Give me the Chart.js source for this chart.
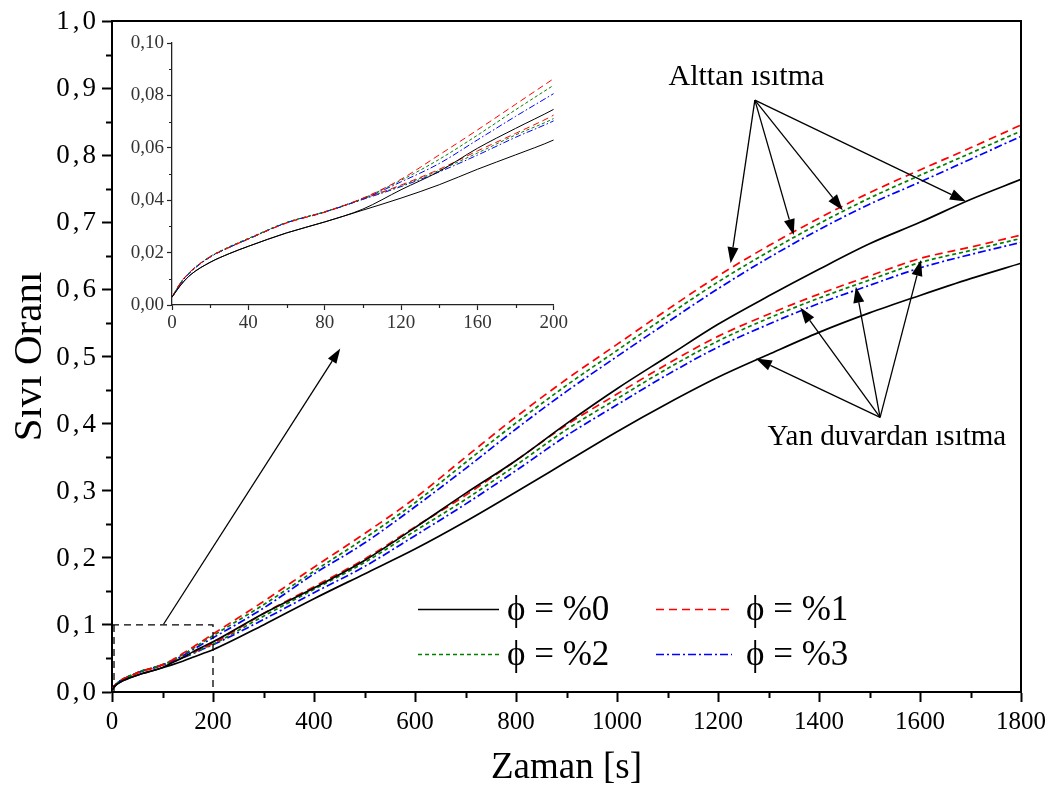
<!DOCTYPE html>
<html><head><meta charset="utf-8">
<script src="https://cdn.jsdelivr.net/npm/chart.js@4.4.0/dist/chart.umd.min.js"></script>
<style>
html,body{margin:0;padding:0;background:#fff;}
#wrap{position:relative;width:1057px;height:794px;overflow:hidden;}
#main{position:absolute;left:0;top:0;}
#inset{position:absolute;left:100px;top:25px;}
</style></head><body>
<div id="wrap"><canvas id="main" width="1057" height="794"></canvas><canvas id="inset" width="470" height="320"></canvas></div>
<script>
// ---- data ----
const times = [0,5,10,20,30,40,60,80,100,120,140,160,180,200,300,400,500,600,700,800,900,1000,1100,1200,1300,1400,1500,1600,1700,1800];
// Alttan ısıtma (bottom heating)
const alttan0 = [0.003,0.008,0.0117,0.0163,0.0196,0.0224,0.0275,0.0317,0.0366,0.044,0.051,0.0598,0.0674,0.0747,0.117,0.155,0.196,0.245,0.296,0.345,0.400,0.452,0.500,0.548,0.590,0.630,0.668,0.700,0.734,0.764];
const alttan1 = [0.003,0.009,0.013,0.0184,0.022,0.0252,0.0313,0.0355,0.0408,0.048,0.0573,0.0668,0.0766,0.0864,0.135,0.186,0.236,0.289,0.350,0.410,0.466,0.518,0.570,0.620,0.665,0.706,0.744,0.778,0.811,0.845];
const alttan2 = [0.003,0.009,0.013,0.0185,0.0222,0.0254,0.0315,0.0356,0.0407,0.0476,0.0556,0.0648,0.0745,0.0839,0.130,0.180,0.229,0.282,0.342,0.401,0.457,0.509,0.561,0.611,0.656,0.698,0.736,0.770,0.803,0.836];
const alttan3 = [0.003,0.0088,0.0128,0.0183,0.022,0.0252,0.0314,0.0355,0.0405,0.047,0.054,0.063,0.072,0.0807,0.125,0.176,0.222,0.276,0.333,0.392,0.448,0.500,0.551,0.601,0.647,0.689,0.727,0.760,0.794,0.828];
// Yan duvardan ısıtma (side-wall heating)
const yan0 = [0.003,0.008,0.0117,0.0163,0.0196,0.0224,0.0275,0.0317,0.0362,0.0408,0.0459,0.0518,0.0573,0.063,0.100,0.139,0.176,0.213,0.254,0.298,0.343,0.388,0.430,0.469,0.503,0.536,0.565,0.591,0.616,0.639];
const yan1 = [0.003,0.009,0.013,0.0184,0.022,0.0252,0.0313,0.0354,0.0405,0.0458,0.0518,0.0588,0.0655,0.0725,0.117,0.157,0.198,0.246,0.293,0.345,0.398,0.444,0.489,0.530,0.563,0.593,0.620,0.646,0.663,0.681];
const yan2 = [0.003,0.009,0.013,0.0185,0.0222,0.0254,0.0315,0.0355,0.0405,0.0455,0.0514,0.058,0.0649,0.0712,0.113,0.153,0.193,0.240,0.287,0.338,0.391,0.437,0.482,0.523,0.557,0.587,0.614,0.640,0.658,0.676];
const yan3 = [0.003,0.0088,0.0128,0.0183,0.022,0.0252,0.0314,0.0355,0.0403,0.0452,0.0508,0.0572,0.064,0.0703,0.108,0.148,0.187,0.233,0.280,0.330,0.382,0.428,0.473,0.514,0.548,0.579,0.606,0.632,0.652,0.670];
const legendLabels = ['\u03D5 = %0','\u03D5 = %1','\u03D5 = %2','\u03D5 = %3'];
const xTicksMain = [0,200,400,600,800,1000,1200,1400,1600,1800];
const annotTop = 'Alttan ısıtma';
const annotBottom = 'Yan duvardan ısıtma';
const xTitle = 'Zaman [s]';
const yTitle = 'Sıvı Oranı';

// ---- styles ----
const SERIF = '"Liberation Serif","Times New Roman",serif';
const seriesStyle = [
  {color:'#000000', dash:[]},
  {color:'#ff0000', dash:[8,5]},
  {color:'#008000', dash:[4,3]},
  {color:'#0000ff', dash:[8,3,2,3]}
];
const groups = [[alttan0,alttan1,alttan2,alttan3],[yan0,yan1,yan2,yan3]];

function makeDatasets(width, dashScale){
  const ds = [];
  groups.forEach((g,gi)=>{
    g.forEach((vals,i)=>{
      const st = seriesStyle[i];
      ds.push({
        label: legendLabels[i] + (gi ? ' yan' : ' alttan'),
        data: times.map((t,k)=>({x:t, y:vals[k]})),
        borderColor: st.color,
        borderWidth: width,
        borderDash: st.dash.map(d=>d*dashScale),
        pointRadius: 0,
        fill: false,
        cubicInterpolationMode: 'monotone'
      });
    });
  });
  return ds;
}

function fmtComma(v, d){ return Number(v).toFixed(d).replace('.', ','); }

const minorTicks = {
  id:'minorTicks',
  afterDraw(chart, args, opts){
    const {ctx, scales:{x,y}} = chart;
    ctx.save();
    ctx.strokeStyle = opts.color || '#000';
    ctx.lineWidth = opts.width || 1;
    ctx.beginPath();
    for (let v = x.min + opts.xStep; v < x.max; v += opts.xStep*2){
      const px = Math.round(x.getPixelForValue(v)) + 0.5;
      ctx.moveTo(px, y.bottom); ctx.lineTo(px, y.bottom + opts.len);
    }
    for (let v = y.min + opts.yStep; v < y.max + 1e-9; v += opts.yStep*2){
      const py = Math.round(y.getPixelForValue(v)) + 0.5;
      ctx.moveTo(x.left, py); ctx.lineTo(x.left - opts.len, py);
    }
    ctx.stroke();
    ctx.restore();
  }
};

// y tick labels with slightly wider letter spacing (as in the original)
const yLabels = {
  id:'yLabels',
  afterDraw(chart, args, opts){
    const {ctx, scales:{y}} = chart;
    ctx.save();
    ctx.fillStyle = opts.color; ctx.font = opts.size + 'px ' + SERIF;
    ctx.textAlign = 'right'; ctx.textBaseline = 'middle';
    if ('letterSpacing' in ctx) ctx.letterSpacing = opts.spacing + 'px';
    y.ticks.forEach(t=>{
      const py = y.getPixelForValue(t.value);
      ctx.fillText(fmtComma(t.value, opts.dec), opts.right + opts.spacing, py + 1);
    });
    ctx.restore();
  }
};

function arrow(ctx, x0, y0, x1, y1, head, halfW){
  const ang = Math.atan2(y1-y0, x1-x0);
  const bx = x1 - head*Math.cos(ang), by = y1 - head*Math.sin(ang);
  ctx.beginPath(); ctx.moveTo(x0,y0); ctx.lineTo(bx,by); ctx.stroke();
  ctx.beginPath();
  ctx.moveTo(x1,y1);
  ctx.lineTo(bx + halfW*Math.sin(ang), by - halfW*Math.cos(ang));
  ctx.lineTo(bx - halfW*Math.sin(ang), by + halfW*Math.cos(ang));
  ctx.closePath(); ctx.fill();
}

const annot = {
  id:'annot',
  afterDraw(chart){
    const {ctx, scales:{x,y}, chartArea:ca} = chart;
    const P = (t,v)=>[x.getPixelForValue(t), y.getPixelForValue(v)];
    ctx.save();
    // frame top/right
    ctx.strokeStyle = '#000'; ctx.lineWidth = 2;
    ctx.beginPath();
    ctx.moveTo(ca.left, ca.top); ctx.lineTo(ca.right, ca.top); ctx.lineTo(ca.right, ca.bottom);
    ctx.stroke();
    // zoom box (dashed)
    ctx.lineWidth = 1.3; ctx.setLineDash([7,5]);
    ctx.beginPath();
    let a = P(0,0.1), b = P(200,0.1), c = P(200,0);
    ctx.moveTo(a[0],a[1]); ctx.lineTo(b[0],b[1]); ctx.lineTo(c[0],c[1]);
    let d = P(2,0.1), e = P(2,0);
    ctx.moveTo(d[0]+1,d[1]); ctx.lineTo(e[0]+1,e[1]);
    ctx.stroke();
    ctx.setLineDash([]);
    ctx.fillStyle = '#000'; ctx.lineWidth = 1.3;
    // arrow to inset
    let s = P(102,0.101), tt = P(452,0.512);
    arrow(ctx, s[0], s[1], tt[0], tt[1], 15, 5);
    // Alttan arrows
    const o1 = P(1273,0.882);
    [[1225,0.639],[1350,0.681],[1447,0.718],[1691,0.731]].forEach(q=>{
      const p = P(q[0],q[1]); arrow(ctx, o1[0], o1[1], p[0], p[1], 16, 5.5);
    });
    // Yan arrows
    const o2 = P(1521,0.4094);
    [[1275,0.497],[1363,0.573],[1473,0.604],[1602,0.644]].forEach(q=>{
      const p = P(q[0],q[1]); arrow(ctx, o2[0], o2[1], p[0], p[1], 16, 5.5);
    });
    // texts
    ctx.fillStyle = '#000';
    ctx.textBaseline = 'alphabetic'; ctx.textAlign = 'left';
    ctx.font = '30px ' + SERIF;
    let tp = P(1102, 0.905);
    ctx.fillText(annotTop, tp[0], tp[1]);
    ctx.font = '29px ' + SERIF;
    tp = P(1298, 0.3675);
    ctx.fillText(annotBottom, tp[0], tp[1]);
    // legend
    const lx0 = [418,656], lx1 = [499,732], tx = [507,746], ly = [609,654];
    for (let i=0;i<4;i++){
      const col = i%2, row = Math.floor(i/2);
      const st = seriesStyle[i];
      ctx.strokeStyle = st.color; ctx.lineWidth = 1.6; ctx.setLineDash(st.dash);
      ctx.beginPath(); ctx.moveTo(lx0[col], ly[row]+0.5); ctx.lineTo(lx1[col], ly[row]+0.5); ctx.stroke();
      ctx.setLineDash([]);
      ctx.fillStyle = '#000'; ctx.font = '35px ' + SERIF; ctx.textBaseline = 'middle';
      ctx.fillText(legendLabels[i], tx[col], ly[row]+2);
    }
    ctx.restore();
  }
};

const mainChart = new Chart(document.getElementById('main'), {
  type:'line',
  data:{datasets: makeDatasets(1.7, 1)},
  options:{
    responsive:false, animation:false, devicePixelRatio:1,
    layout:{padding:{left:0, right:36, top:21, bottom:0}},
    plugins:{legend:{display:false}, tooltip:{enabled:false},
      minorTicks:{xStep:100, yStep:0.05, len:6, width:2},
      yLabels:{right:96, size:27, spacing:3, dec:1, color:'#000'}},
    scales:{
      x:{type:'linear', min:0, max:1800,
        afterBuildTicks:(s)=>{ s.ticks = xTicksMain.map(v=>({value:v})); },
        ticks:{font:{family:SERIF, size:25}, color:'#000', padding:5, maxRotation:0, autoSkip:false,
          callback:(v)=>String(v)},
        grid:{display:true, drawOnChartArea:false, tickLength:10, tickWidth:2, color:'#000'},
        border:{display:true, color:'#000', width:2},
        title:{display:true, text:xTitle, font:{family:SERIF, size:37}, color:'#000', padding:{top:0, bottom:4}},
        afterFit:(s)=>{ s.height = 102; }
      },
      y:{type:'linear', min:0, max:1,
        ticks:{stepSize:0.1, display:false},
        grid:{display:true, drawOnChartArea:false, tickLength:10, tickWidth:2, color:'#000'},
        border:{display:true, color:'#000', width:2},
        title:{display:true, text:yTitle, font:{family:SERIF, size:41}, color:'#000', padding:{top:6, bottom:0}},
        afterFit:(s)=>{ s.width = 112; }
      }
    }
  },
  plugins:[minorTicks, yLabels, annot]
});

const insetChart = new Chart(document.getElementById('inset'), {
  type:'line',
  data:{datasets: makeDatasets(1, 0.8)},
  options:{
    responsive:false, animation:false, devicePixelRatio:1,
    layout:{padding:{left:0, right:16, top:18, bottom:0}},
    plugins:{legend:{display:false}, tooltip:{enabled:false},
      minorTicks:{xStep:20, yStep:0.01, len:3, width:1.2, color:'#222'}},
    scales:{
      x:{type:'linear', min:0, max:200,
        ticks:{stepSize:40, font:{family:SERIF, size:19}, color:'#333', padding:2, maxRotation:0, autoSkip:false},
        grid:{display:true, drawOnChartArea:false, tickLength:5, tickWidth:1.2, color:'#222'},
        border:{display:true, color:'#222', width:1.3},
        afterFit:(s)=>{ s.height = 40; }
      },
      y:{type:'linear', min:0, max:0.1,
        ticks:{stepSize:0.02, font:{family:SERIF, size:19}, color:'#333', padding:3,
          callback:(v)=>fmtComma(v,2)},
        grid:{display:true, drawOnChartArea:false, tickLength:5, tickWidth:1.2, color:'#222'},
        border:{display:true, color:'#222', width:1.3},
        afterFit:(s)=>{ s.width = 72; }
      }
    }
  },
  plugins:[minorTicks]
});
</script>
</body></html>
